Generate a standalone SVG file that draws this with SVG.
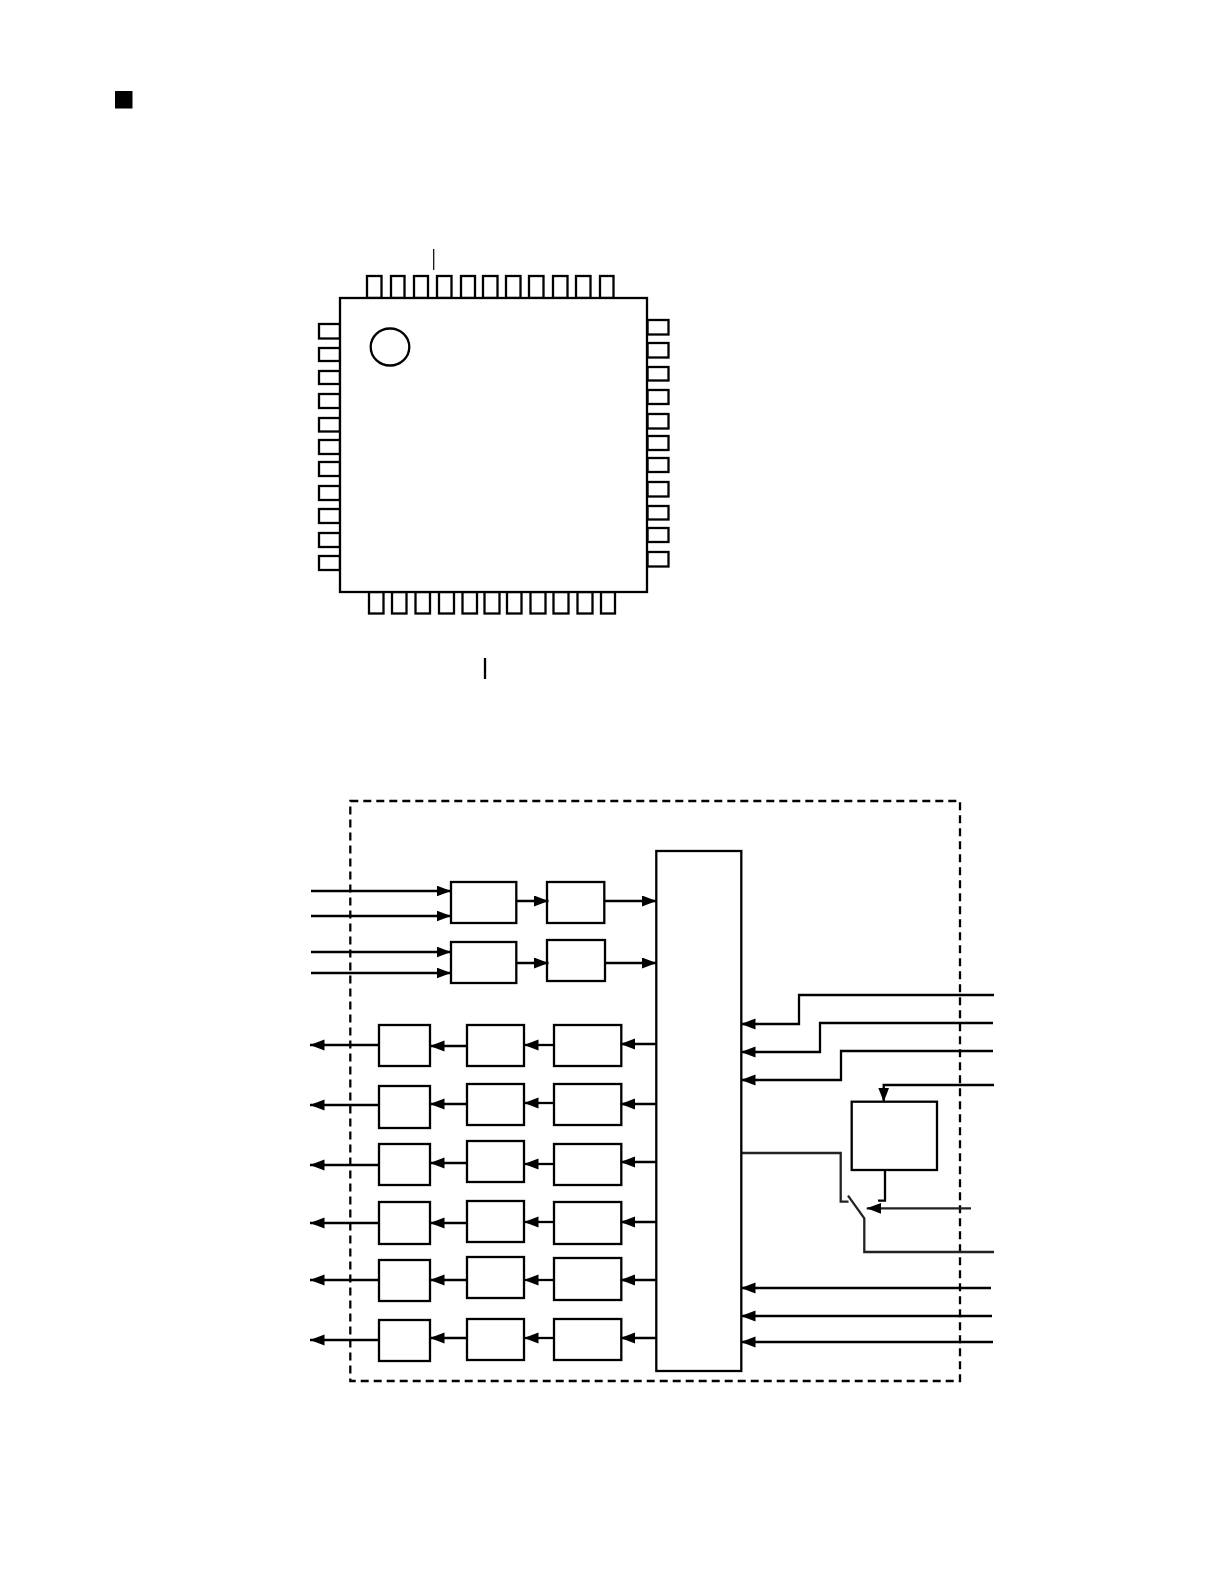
<svg xmlns="http://www.w3.org/2000/svg" width="1224" height="1584" viewBox="0 0 1224 1584">
<style>
rect,circle,ellipse,path,line{fill:none;stroke:#000;stroke-width:2.300}
.w{fill:#fff}
.a{marker-end:url(#arr)}
.g{stroke:#222}
.bullet{fill:#000;stroke:none}
</style>
<defs><marker id="arr" markerUnits="userSpaceOnUse" markerWidth="17" markerHeight="13" refX="14.500" refY="5.500" orient="auto"><path d="M0 0L14.500 5.500L0 11Z" style="fill:#000;stroke:none"/></marker></defs>
<rect width="1224" height="1584" style="fill:#fff;stroke:none"/>
<rect id="bullet" class="bullet" x="115" y="91" width="17.500" height="17.500"/>
<g id="package">
<g id="top-pins">
<rect x="367" y="276" width="14.500" height="22"/><rect x="391" y="276" width="13.500" height="22"/><rect x="414" y="276" width="14" height="22"/><rect x="437" y="276" width="14.500" height="22"/><rect x="461" y="276" width="14" height="22"/><rect x="483" y="276" width="14.500" height="22"/><rect x="506" y="276" width="14.500" height="22"/><rect x="529" y="276" width="14.500" height="22"/><rect x="553" y="276" width="14.500" height="22"/><rect x="576" y="276" width="14.500" height="22"/><rect x="600" y="276" width="13.500" height="22"/>
</g>
<g id="left-pins">
<rect x="319" y="324" width="21" height="14.500"/><rect x="319" y="348" width="21" height="13"/><rect x="319" y="371" width="21" height="13"/><rect x="319" y="394" width="21" height="14"/><rect x="319" y="418" width="21" height="13.500"/><rect x="319" y="440" width="21" height="14"/><rect x="319" y="462" width="21" height="14"/><rect x="319" y="486" width="21" height="14"/><rect x="319" y="509" width="21" height="14"/><rect x="319" y="533" width="21" height="14"/><rect x="319" y="556" width="21" height="14"/>
</g>
<g id="right-pins">
<rect x="647.500" y="320" width="21" height="14.500"/><rect x="647.500" y="343" width="21" height="14.500"/><rect x="647.500" y="367" width="21" height="13.500"/><rect x="647.500" y="390" width="21" height="14"/><rect x="647.500" y="414" width="21" height="14.500"/><rect x="647.500" y="436" width="21" height="14"/><rect x="647.500" y="458" width="21" height="14"/><rect x="647.500" y="482" width="21" height="14.500"/><rect x="647.500" y="506" width="21" height="13.500"/><rect x="647.500" y="528" width="21" height="14"/><rect x="647.500" y="552" width="21" height="14.500"/>
</g>
<g id="bottom-pins">
<rect x="369" y="592" width="14.500" height="21.500"/><rect x="392" y="592" width="14.500" height="21.500"/><rect x="415.500" y="592" width="14.500" height="21.500"/><rect x="439" y="592" width="15" height="21.500"/><rect x="462.500" y="592" width="14.500" height="21.500"/><rect x="484.500" y="592" width="15" height="21.500"/><rect x="507" y="592" width="14.500" height="21.500"/><rect x="530.500" y="592" width="15" height="21.500"/><rect x="553.500" y="592" width="15" height="21.500"/><rect x="577.500" y="592" width="15" height="21.500"/><rect x="601" y="592" width="14" height="21.500"/>
</g>
<rect id="chip" class="w" x="340" y="298" width="307" height="294"/>
<ellipse id="pin1" cx="390" cy="347" rx="19.300" ry="18.500"/>
<line id="tick-top" x1="433.700" y1="249" x2="433.700" y2="270" style="stroke-width:1.200"/>
<line id="tick-bottom" x1="485" y1="658" x2="485" y2="679"/>
</g>
<g id="boundary"><rect x="350.300" y="801" width="609.700" height="580" stroke-dasharray="8 5"/></g>
<g id="connectors">
<path class="a" d="M311 891H451"/><path class="a" d="M311 916H451"/><path class="a" d="M311 952H451"/><path class="a" d="M311 973H451"/>
<path class="a" d="M516 901H548.500"/><path class="a" d="M604 901H656.500"/><path class="a" d="M516 963H548.500"/><path class="a" d="M605 963H656.500"/>
<path class="a" d="M656 1044H620.500"/><path class="a" d="M554 1045H524"/><path class="a" d="M467 1046H430"/><path class="a" d="M379 1045H310"/>
<path class="a" d="M656 1104H620.500"/><path class="a" d="M554 1103H524"/><path class="a" d="M467 1104H430"/><path class="a" d="M379 1105H310"/>
<path class="a" d="M656 1162H620.500"/><path class="a" d="M554 1164H524"/><path class="a" d="M467 1163H430"/><path class="a" d="M379 1165H310"/>
<path class="a" d="M656 1222H620.500"/><path class="a" d="M554 1222H524"/><path class="a" d="M467 1223H430"/><path class="a" d="M379 1223H310"/>
<path class="a" d="M656 1280H620.500"/><path class="a" d="M554 1280H524"/><path class="a" d="M467 1280H430"/><path class="a" d="M379 1280H310"/>
<path class="a" d="M656 1338H620.500"/><path class="a" d="M554 1338H524"/><path class="a" d="M467 1338H430"/><path class="a" d="M379 1340H310"/>
<path class="a" d="M994 995H799V1024H741"/><path class="a" d="M993 1023H820V1052H741"/><path class="a" d="M993 1051H841V1080H741"/>
<path class="a" d="M994 1085H883.700V1102"/>
<path d="M885 1170V1200.700H878"/>
<path class="g" d="M741 1153H840.700V1201.700H848.500"/>
<path class="g" d="M848 1195.700L864.300 1218.300V1252H994"/>
<path class="a g" d="M971 1208.300H866.700"/>
<path class="a" d="M991 1288H741"/><path class="a" d="M992 1316H741"/><path class="a" d="M993 1342H741"/>
</g>
<g id="n-a1"><rect x="451" y="882" width="65.300" height="41"/></g>
<g id="n-a2"><rect x="451" y="942" width="65.300" height="41"/></g>
<g id="n-b1"><rect x="547" y="882" width="57.300" height="41"/></g>
<g id="n-b2"><rect x="547" y="940" width="58" height="41"/></g>
<g id="n-main"><rect x="656.300" y="851" width="85" height="520"/></g>
<g id="n-f"><rect x="851.700" y="1101.700" width="85.300" height="68.300"/></g>
<g id="n-c1"><rect x="379" y="1025" width="51" height="41"/></g>
<g id="n-d1"><rect x="467" y="1025" width="57" height="41"/></g>
<g id="n-e1"><rect x="554" y="1025" width="67.300" height="41"/></g>
<g id="n-c2"><rect x="379" y="1086" width="51" height="42"/></g>
<g id="n-d2"><rect x="467" y="1084" width="57" height="41"/></g>
<g id="n-e2"><rect x="554" y="1084" width="67.300" height="41"/></g>
<g id="n-c3"><rect x="379" y="1144" width="51" height="41"/></g>
<g id="n-d3"><rect x="467" y="1141" width="57" height="41"/></g>
<g id="n-e3"><rect x="554" y="1144" width="67.300" height="41"/></g>
<g id="n-c4"><rect x="379" y="1202" width="51" height="42"/></g>
<g id="n-d4"><rect x="467" y="1201" width="57" height="41"/></g>
<g id="n-e4"><rect x="554" y="1202" width="67.300" height="42"/></g>
<g id="n-c5"><rect x="379" y="1260" width="51" height="41"/></g>
<g id="n-d5"><rect x="467" y="1257" width="57" height="41"/></g>
<g id="n-e5"><rect x="554" y="1258" width="67.300" height="42"/></g>
<g id="n-c6"><rect x="379" y="1320" width="51" height="41"/></g>
<g id="n-d6"><rect x="467" y="1319" width="57" height="41"/></g>
<g id="n-e6"><rect x="554" y="1319" width="67.300" height="41"/></g>
</svg>
